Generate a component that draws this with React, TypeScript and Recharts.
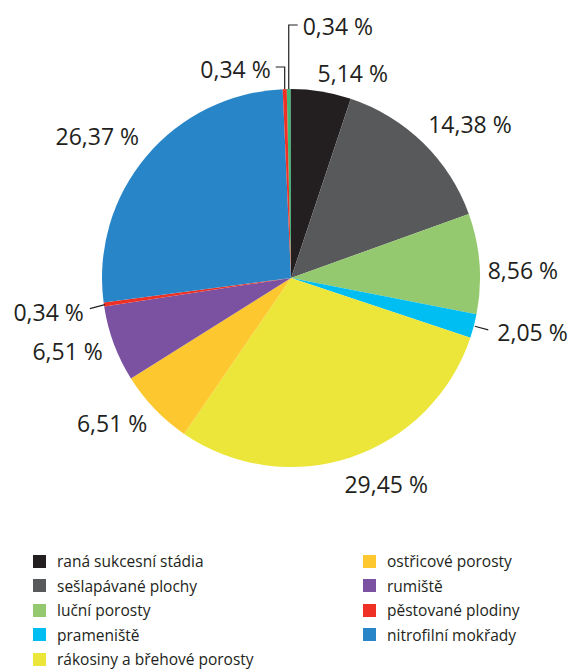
import React from 'react';
import { PieChart, Pie, Cell, Legend } from 'recharts';

// ---- data ----
const sliceCategories = [
  'ostatní',
  'raná sukcesní stádia',
  'sešlapávané plochy',
  'luční porosty',
  'prameniště',
  'rákosiny a břehové porosty',
  'ostřicové porosty',
  'rumiště',
  'pěstované plodiny',
  'nitrofilní mokřady',
  'pěstované plodiny',
];
const sliceValues = [0.34, 5.14, 14.38, 8.56, 2.05, 29.45, 6.51, 6.51, 0.34, 26.37, 0.34];
const sliceColors = [
  '#3db877', '#231f20', '#58595b', '#95c96f', '#00bdf2', '#ece63a',
  '#fdc82f', '#7b52a1', '#ee3124', '#2885c7', '#ee3124',
];

const legendLeft = ['raná sukcesní stádia', 'sešlapávané plochy', 'luční porosty', 'prameniště', 'rákosiny a břehové porosty'];
const legendLeftColors = ['#231f20', '#58595b', '#95c96f', '#00bdf2', '#ece63a'];
const legendRight = ['ostřicové porosty', 'rumiště', 'pěstované plodiny', 'nitrofilní mokřady'];
const legendRightColors = ['#fdc82f', '#7b52a1', '#ee3124', '#2885c7'];

const chartData = sliceValues.map((v, i) => ({ name: sliceCategories[i], value: v }));

// ---- label layout (styling) ----
type Layout =
  | { kind: 'plain'; r: number; shift: number }
  | { kind: 'elbowRight'; rise: number }
  | { kind: 'elbowLeft'; rise: number }
  | { kind: 'radial' }
  | { kind: 'leftLine' };

const labelLayout: Layout[] = [
  { kind: 'elbowRight', rise: 64 },
  { kind: 'plain', r: 214, shift: 7.6 },
  { kind: 'plain', r: 236, shift: 5 },
  { kind: 'plain', r: 232, shift: 2.4 },
  { kind: 'radial' },
  { kind: 'plain', r: 227, shift: -6.2 },
  { kind: 'plain', r: 230, shift: 4.9 },
  { kind: 'plain', r: 235, shift: 2.3 },
  { kind: 'leftLine' },
  { kind: 'plain', r: 240, shift: -3.8 },
  { kind: 'elbowLeft', rise: 22 },
];

const FONT = '"Open Sans", "Noto Sans", sans-serif';
const TEXT = '#231f20';
const RAD = Math.PI / 180;
const polar = (cx: number, cy: number, r: number, a: number) => ({
  x: cx + r * Math.cos(-a * RAD),
  y: cy + r * Math.sin(-a * RAD),
});
const fmt = (v: number) => v.toFixed(2).replace('.', ',') + ' %';

const renderLabel = (props: any) => {
  const { cx, cy, midAngle, outerRadius, index, value } = props;
  const layout = labelLayout[index];
  const text = fmt(value);
  const textProps = { fontFamily: FONT, fontSize: 23, fill: TEXT, dominantBaseline: 'central' as const };
  const lineProps = { stroke: '#231f20', strokeWidth: 1.2, fill: 'none' };
  const edge = polar(cx, cy, outerRadius, midAngle);
  if (layout.kind === 'plain') {
    const p = polar(cx, cy, layout.r, midAngle - layout.shift);
    return (
      <text key={index} x={p.x} y={p.y} textAnchor="middle" {...textProps}>
        {text}
      </text>
    );
  }
  if (layout.kind === 'elbowRight') {
    const topY = cy - outerRadius - layout.rise;
    return (
      <g key={index}>
        <polyline points={`${edge.x},${edge.y} ${edge.x},${topY} ${edge.x + 9},${topY}`} {...lineProps} />
        <text x={edge.x + 14} y={topY + 1} textAnchor="start" {...textProps}>
          {text}
        </text>
      </g>
    );
  }
  if (layout.kind === 'elbowLeft') {
    const topY = cy - outerRadius - layout.rise;
    return (
      <g key={index}>
        <polyline points={`${edge.x},${edge.y} ${edge.x},${topY} ${edge.x - 9},${topY}`} {...lineProps} />
        <text x={edge.x - 14} y={topY + 2} textAnchor="end" {...textProps}>
          {text}
        </text>
      </g>
    );
  }
  if (layout.kind === 'radial') {
    const a = polar(cx, cy, outerRadius + 1, midAngle);
    const b = polar(cx, cy, outerRadius + 15, midAngle);
    return (
      <g key={index}>
        <line x1={a.x} y1={a.y} x2={b.x} y2={b.y} {...lineProps} />
        <text x={b.x + 9} y={b.y + 2} textAnchor="start" {...textProps}>
          {text}
        </text>
      </g>
    );
  }
  // leftLine
  const end = { x: edge.x - 14, y: edge.y + 4 };
  return (
    <g key={index}>
      <line x1={edge.x + 1} y1={edge.y} x2={end.x} y2={end.y} {...lineProps} />
      <text x={end.x - 6} y={end.y + 3} textAnchor="end" {...textProps}>
        {text}
      </text>
    </g>
  );
};

const LegendContent = () => {
  const rowY = (i: number) => i * 24.5;
  const item = (label: string, color: string, i: number, x: number) => (
    <div
      key={label + i}
      style={{ position: 'absolute', left: x, top: rowY(i), height: 20, display: 'flex', alignItems: 'center' }}
    >
      <div style={{ width: 13, height: 13, background: color, marginRight: 11 }} />
      <span style={{ fontFamily: FONT, fontSize: 15.5, color: TEXT, whiteSpace: 'nowrap', lineHeight: '20px' }}>
        {label}
      </span>
    </div>
  );
  return (
    <div style={{ position: 'relative', width: 571, height: 122 }}>
      {legendLeft.map((l, i) => item(l, legendLeftColors[i], i, 33))}
      {legendRight.map((l, i) => item(l, legendRightColors[i], i, 363))}
    </div>
  );
};

export default function App() {
  return (
    <div style={{ position: 'absolute', left: 0, top: 0, width: 571, height: 670, background: '#fff' }}>
      <PieChart width={571} height={670} margin={{ top: 0, right: 0, bottom: 0, left: 0 }}>
        <Pie
          data={chartData}
          dataKey="value"
          nameKey="name"
          cx={291}
          cy={278}
          outerRadius={189}
          startAngle={91.3}
          endAngle={-268.7}
          stroke="none"
          label={renderLabel}
          labelLine={false}
          isAnimationActive={false}
        >
          {chartData.map((d, i) => (
            <Cell key={i} fill={sliceColors[i]} />
          ))}
        </Pie>
        <Legend
          content={<LegendContent />}
          wrapperStyle={{ top: 551, left: 0, bottom: 'auto', width: 571 }}
        />
      </PieChart>
    </div>
  );
}
